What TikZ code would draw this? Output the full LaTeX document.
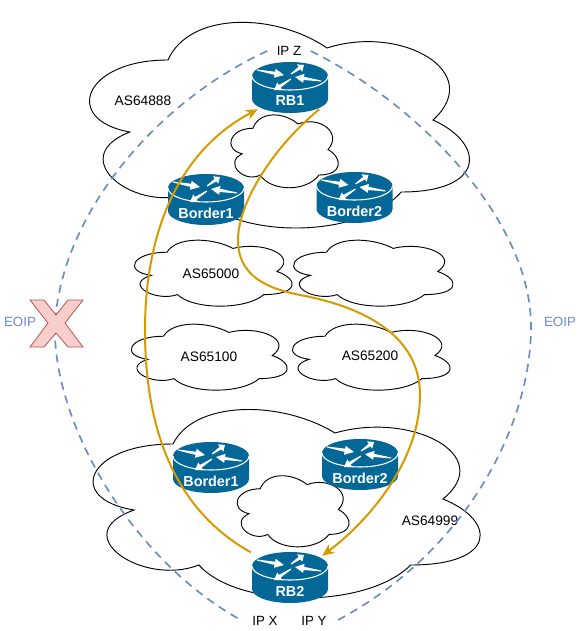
\documentclass[tikz,border=0pt]{standalone}
\usepackage{fontspec}
\setmainfont{Liberation Sans}
\usetikzlibrary{arrows.meta,calc}
\definecolor{routerblue}{HTML}{036897}
\definecolor{eoipblue}{HTML}{6C8EBF}
\definecolor{pathgold}{HTML}{D79B00}
\definecolor{crossfill}{HTML}{F8CECC}
\definecolor{crossline}{HTML}{B85450}
% x, y, w, h
\newcommand{\cloudshape}[4]{%
  \begin{scope}[shift={(#1,#2)}, x=#3*0.75pt, y=-#4*0.75pt]
    \draw[cloudline] (0.25,0.25) .. controls (0.05,0.25) and (0,0.5) .. (0.16,0.55)
      .. controls (0,0.66) and (0.18,0.9) .. (0.31,0.8)
      .. controls (0.4,1) and (0.7,1) .. (0.8,0.8)
      .. controls (1,0.8) and (1,0.6) .. (0.875,0.5)
      .. controls (1,0.3) and (0.8,0.1) .. (0.625,0.2)
      .. controls (0.5,0.05) and (0.3,0.05) .. (0.25,0.25) -- cycle;
  \end{scope}}
% tail, tip
\newcommand{\routerarrow}[2]{%
  \coordinate (ra) at #1; \coordinate (rb) at #2; \coordinate (rc) at ($(ra)!0.66!(rb)$);
  \fill[white] ($(ra)!0.4pt!90:(rb)$) -- ($(rc)!1.2pt!90:(rb)$) -- ($(rc)!3.4pt!90:(rb)$) -- (rb)
    -- ($(rc)!3.4pt!-90:(rb)$) -- ($(rc)!1.2pt!-90:(rb)$) -- ($(ra)!0.4pt!-90:(rb)$) -- cycle;}
% name, centre x, top y, label
\newcommand{\router}[4]{%
  \begin{scope}[shift={(#2,#3)}]
    \fill[routerblue] (-38,14) arc[start angle=180, end angle=0, x radius=28.5pt, y radius=10.5pt]
      -- (38,37) arc[start angle=0, end angle=-180, x radius=28.5pt, y radius=10.5pt] -- cycle;
    \draw[white, line width=0.8pt] (-38,14) arc[start angle=180, end angle=360, x radius=28.5pt, y radius=10.5pt];
    \routerarrow{(-33,8)}{(-6,13)}
    \routerarrow{(1,12)}{(14,3)}
    \routerarrow{(31,19)}{(5,15)}
    \routerarrow{(1,17)}{(-16,28)}
    \node[routerbox] (#1) at (0,25.5) {};
    \node[routertext] (#1text) at (0,39) {#4};
  \end{scope}}
\tikzset{
  cloudline/.style={draw=black, fill=white, line width=0.7pt},
  routerbox/.style={minimum width=48pt, minimum height=32.25pt, inner sep=0pt},
  routertext/.style={text=white, font=\fontsize{10.8}{12}\selectfont\bfseries, inner sep=0pt},
  astext/.style={font=\fontsize{10.3}{12}\selectfont, inner sep=1pt},
  iptext/.style={font=\fontsize{10}{12}\selectfont, inner sep=7pt},
  eoiptext/.style={text=eoipblue, font=\fontsize{10}{12}\selectfont, inner sep=1pt},
  eoipline/.style={draw=eoipblue, line width=1.25pt, dash pattern=on 6pt off 4.5pt},
  pathline/.style={draw=pathgold, line width=1.5pt},
  patharrow/.style={pathline, -{Stealth[length=9pt, width=8pt]}}
}
\begin{document}
\begin{tikzpicture}[x=0.75pt, y=-0.75pt]
  \useasboundingbox (0,0) rectangle (581,631);
  \fill[white] (0,0) rectangle (581,631);
  % clouds
  \cloudshape{62}{0}{424}{240}
  \cloudshape{65}{389}{432}{220}
  \cloudshape{223}{107}{120}{85}
  \cloudshape{229}{468}{125}{83}
  \cloudshape{123}{233}{176}{77}
  \cloudshape{282}{233}{178}{77}
  \cloudshape{120}{317}{174}{77}
  \cloudshape{281}{317}{176}{77}
  % texts
  \node[iptext] (ipz) at (289,51) {IP Z};
  \node[iptext] (ipx) at (265,621) {IP X};
  \node[iptext] (ipy) at (314,621) {IP Y};
  \node[astext] (as64888) at (143,101) {AS64888};
  \node[astext] (as64999) at (430,521) {AS64999};
  \node[astext] (as65000) at (211,274) {AS65000};
  \node[astext] (as65100) at (209,357) {AS65100};
  \node[astext] (as65200) at (370,356) {AS65200};
  \node[eoiptext] (eoipl) at (20,322) {EOIP};
  \node[eoiptext] (eoipr) at (560,322) {EOIP};
  % EOIP tunnels
  \coordinate (midl) at (55,325);
  \coordinate (midr) at (531,325);
  \draw[eoipline] (ipz.west) .. controls (150,105) and (60,220) .. (midl)
    .. controls (52,420) and (130,560) .. (ipx.west);
  \draw[eoipline] (ipz.east) .. controls (420,105) and (530,220) .. (midr)
    .. controls (532,420) and (470,550) .. (ipy.east);
  % cross
  \draw[fill=crossfill, draw=crossline, line width=0.6pt] (30,300) -- (44,300) -- (56,315) -- (68,300)
    -- (83,300) -- (65,323) -- (83,347) -- (68,347) -- (56,333) -- (44,347) -- (30,347) -- (48,323) -- cycle;
  % routers
  \router{rb1}{290}{62}{RB1}
  \router{topb1}{206}{174}{Border1}
  \router{topb2}{354.5}{172}{Border2}
  \router{botb1}{211}{442}{Border1}
  \router{botb2}{360}{439}{Border2}
  \router{rb2}{290}{552}{RB2}
  % paths
  \draw[patharrow] ($(rb2.north west)+(-7,-3.5)$) .. controls (175,510) and (145,430) .. (145,330)
    .. controls (145,230) and (180,150) .. (rb1.south west);
  \draw[patharrow] ($(rb1.south east)+(-3,0)$) .. controls (270,150) and (238,205) .. (238,240)
    .. controls (238,275) and (265,288) .. (300,295)
    .. controls (380,310) and (420,345) .. (420,395)
    .. controls (420,460) and (370,520) .. (rb2.north east);
\end{tikzpicture}
\end{document}
